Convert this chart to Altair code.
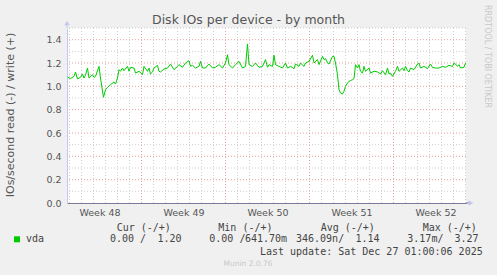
import altair as alt
import pandas as pd

# ---------------- data ----------------
START = pd.Timestamp("2025-11-24T19:00:00Z")
# hours since START, and write IOs/second (vda)
hours = [1, 7, 14, 17, 21, 27, 31, 34, 37, 41, 44, 51, 54, 57, 64, 67, 73, 77, 81, 87,
         94, 97, 101, 104, 107, 111, 114, 121, 124, 127, 134, 137, 144, 151, 154, 161, 164,
         167, 171, 174, 181, 184, 187, 194, 201, 207, 214, 221, 224, 231, 237, 244, 247,
         251, 257, 264, 267, 271, 277, 284, 291, 297, 304, 311, 317, 321, 324, 331, 337,
         344, 351, 357, 361, 364, 371, 377, 384, 391, 397, 401,
         404, 411, 414, 417, 424, 431, 437, 441, 447, 454, 457, 464, 467, 474, 477, 484,
         491, 494, 501, 504, 511, 514, 517, 521, 524, 531, 534, 537, 541, 544, 547, 551,
         554, 557, 561, 564, 567, 571, 574, 577, 581, 584, 587, 591, 594, 597, 604, 607,
         614, 621, 627, 631, 637, 641, 644, 647, 651, 657, 661, 664, 671, 674, 677, 681,
         684, 687, 694, 701, 704, 707, 714, 721, 727, 731, 737, 744, 751, 757, 764, 771,
         774, 777, 781, 784, 787, 794, 797]
iops = [1.080, 1.066, 1.086, 1.123, 1.063, 1.077, 1.106, 1.071, 1.094, 1.157, 1.071, 1.100,
        1.077, 1.086, 1.171, 1.071, 0.906, 0.971, 0.991, 1.014, 1.037, 1.020, 1.071, 1.143,
        1.129, 1.157, 1.134, 1.171, 1.129, 1.163, 1.157, 1.114, 1.129, 1.100, 1.171, 1.129,
        1.157, 1.106, 1.123, 1.157, 1.180, 1.129, 1.123, 1.149, 1.157, 1.191, 1.143, 1.171,
        1.186, 1.163, 1.200, 1.220, 1.171, 1.180, 1.157, 1.171, 1.214, 1.157, 1.157, 1.191,
        1.157, 1.163, 1.186, 1.157, 1.200, 1.271, 1.186, 1.157, 1.186, 1.214, 1.157, 1.171,
        1.363, 1.186, 1.171, 1.200, 1.163, 1.171, 1.229, 1.163,
        1.186, 1.171, 1.266, 1.186, 1.171, 1.157, 1.200, 1.157, 1.171, 1.151, 1.191, 1.171,
        1.200, 1.171, 1.200, 1.214, 1.266, 1.200, 1.229, 1.186, 1.257, 1.229, 1.237, 1.200,
        1.191, 1.257, 1.257, 1.200, 1.100, 0.971, 0.943, 0.934, 0.957, 1.000, 1.029, 1.043,
        1.049, 1.057, 1.066, 1.186, 1.157, 1.186, 1.129, 1.114, 1.171, 1.129, 1.157, 1.114,
        1.129, 1.123, 1.106, 1.134, 1.100, 1.157, 1.106, 1.114, 1.086, 1.129, 1.171, 1.129,
        1.157, 1.134, 1.171, 1.134, 1.123, 1.157, 1.143, 1.191, 1.200, 1.157, 1.171, 1.151,
        1.191, 1.163, 1.157, 1.157, 1.171, 1.163, 1.180, 1.171, 1.200, 1.191, 1.171, 1.186,
        1.157, 1.163, 1.200]

week_centers = ["2025-11-27T12:00:00Z", "2025-12-04T12:00:00Z", "2025-12-11T12:00:00Z",
                "2025-12-18T12:00:00Z", "2025-12-25T12:00:00Z"]
week_lines = ["2025-12-01T00:00:00Z", "2025-12-08T00:00:00Z", "2025-12-15T00:00:00Z",
              "2025-12-22T00:00:00Z"]
day_lines = [d.strftime("%Y-%m-%dT00:00:00Z") for d in pd.date_range("2025-11-25", "2025-12-28", freq="D")]
y_major = [0.2, 0.4, 0.6, 0.8, 1.0, 1.2, 1.4]
y_minor = [0.1, 0.3, 0.5, 0.7, 0.9, 1.1, 1.3, 1.5]
y_ticks = [0.0, 0.2, 0.4, 0.6, 0.8, 1.0, 1.2, 1.4]

legend_head = ["Cur (-/+)", "Min (-/+)", "Avg (-/+)", "Max (-/+)"]
legend_left = ["0.00 /", "0.00 /", "346.09n/", "3.17m/"]
legend_right = ["1.20", "641.70m", "1.14", "3.27"]

# ---------------- chart ----------------
OX, OY = 67, 28  # plot origin in the page
W, H = 399, 175

times = [(START + pd.Timedelta(hours=h)).strftime("%Y-%m-%dT%H:%M:%SZ") for h in hours]
df = pd.DataFrame({"t": times, "v": iops})

xscale = alt.Scale(type="utc",
                   domain=[alt.DateTime(year=2025, month=11, date=24, hours=19, utc=True),
                           alt.DateTime(year=2025, month=12, date=28, hours=1, utc=True)])
yscale = alt.Scale(domain=[0, 1.5], nice=False, zero=True)

xaxis = alt.Axis(title=None, grid=False, ticks=False, tickSize=0, labelPadding=4,
                 values=[alt.DateTime(year=int(s[0:4]), month=int(s[5:7]), date=int(s[8:10]),
                                      hours=12, utc=True) for s in week_centers],
                 labelExpr="'Week ' + utcFormat(datum.value, '%V')",
                 labelFont="DejaVu Sans", labelFontSize=9.5, labelColor="#555555",
                 domainColor="#7A7A9A", domainWidth=1, labelFlush=False, labelOverlap=False)
yaxis = alt.Axis(title="IOs/second read (-) / write (+)", grid=False, ticks=False, tickSize=0,
                 labelPadding=6, values=y_ticks, format=".1f",
                 labelFont="DejaVu Sans", labelFontSize=9.5, labelColor="#555555",
                 domainColor="#C4C8F0", domainWidth=1,
                 titleFont="DejaVu Sans", titleFontSize=11, titleFontWeight="normal",
                 titleColor="#555555", titleX=-57, titleY=H / 2 - 1, titleBaseline="middle",
                 titleAngle=270, titleAlign="center")

X = alt.X("t:T", scale=xscale, axis=xaxis)
Y = alt.Y("v:Q", scale=yscale, axis=yaxis)

minor_v = alt.Chart(pd.DataFrame({"t": day_lines})).mark_rule(
    color="#CFCFCF", strokeDash=[1, 2], strokeWidth=1).encode(x=X)
major_v = alt.Chart(pd.DataFrame({"t": week_lines})).mark_rule(
    color="#E8A0A0", strokeDash=[1, 2], strokeWidth=1).encode(x=X)
minor_h = alt.Chart(pd.DataFrame({"v": y_minor})).mark_rule(
    color="#CFCFCF", strokeDash=[1, 2], strokeWidth=1).encode(y=Y)
major_h = alt.Chart(pd.DataFrame({"v": y_major})).mark_rule(
    color="#E8A0A0", strokeDash=[1, 2], strokeWidth=1).encode(y=Y)

line = alt.Chart(df).mark_line(color="#00CC00", strokeWidth=1, clip=True).encode(x=X, y=Y)

one = pd.DataFrame({"a": [0]})

def txt(text, x, y, size=10, align="left", color="#444444", font="DejaVu Sans Mono",
        angle=0, baseline="middle"):
    return alt.Chart(one).mark_text(text=text, align=align, baseline=baseline, fontSize=size,
                                    font=font, color=color, angle=angle).encode(
        x=alt.value(x - OX), y=alt.value(y - OY))

# axis extensions and arrows
left_ext = alt.Chart(one).mark_rule(color="#C4C8F0").encode(
    x=alt.value(0), y=alt.value(-5), y2=alt.value(0))
bottom_ext = alt.Chart(one).mark_rule(color="#7A7A9A").encode(
    x=alt.value(W), x2=alt.value(W + 4), y=alt.value(H))
up_arrow = alt.Chart(one).mark_point(shape="triangle-up", filled=True, size=30,
                                     color="#C4C8F0", opacity=1).encode(
    x=alt.value(0), y=alt.value(-5))
right_arrow = alt.Chart(one).mark_point(shape="triangle-right", filled=True, size=30,
                                        color="#C4C8F0", opacity=1).encode(
    x=alt.value(W + 5), y=alt.value(H))

texts = [
    txt("Disk IOs per device - by month", 248.5, 19.5, size=12.5, align="center",
        color="#555555", font="DejaVu Sans"),
    txt("RRDTOOL / TOBI OETIKER", 486.5, 5, size=8, color="#C8C8C8", font="DejaVu Sans",
        angle=90),
    txt("vda", 26, 239.3),
    txt("Last update: Sat Dec 27 01:00:06 2025", 482.7, 251.7, align="right"),
    txt("Munin 2.0.76", 248, 264.3, size=7.5, align="center", color="#C8C8C8",
        font="DejaVu Sans"),
]
for s, x in zip(legend_head, [116.7, 218.3, 320.7, 422.7]):
    texts.append(txt(s, x, 227.7))
for s, x in zip(legend_left, [110, 209.3, 296, 407.3]):
    texts.append(txt(s, x, 239.3))
for s, x in zip(legend_right, [157.5, 245, 355.5, 454.5]):
    texts.append(txt(s, x, 239.3))

swatch = alt.Chart(one).mark_square(size=36, color="#00CC00", opacity=1).encode(
    x=alt.value(17 - OX), y=alt.value(239.3 - OY))

chart = alt.layer(minor_v, major_v, minor_h, major_h, line, left_ext, bottom_ext,
                  up_arrow, right_arrow, swatch, *texts).properties(
    width=W, height=H,
    autosize=alt.AutoSizeParams(type="none"),
    padding={"left": OX, "top": OY, "right": 497 - OX - W, "bottom": 275 - OY - H},
    background="#F0F0F0",
).configure_view(fill="#FFFFFF", stroke=None)

chart.save("out.html", embed_options={"renderer": "svg", "actions": False})
